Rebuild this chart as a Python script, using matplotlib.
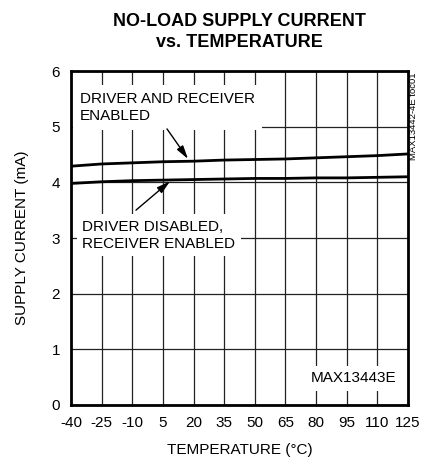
import matplotlib
matplotlib.use("Agg")
import matplotlib.pyplot as plt

plt.rcParams["font.family"] = ["Liberation Sans", "DejaVu Sans"]
plt.rcParams["axes.unicode_minus"] = False

# Data
temps = [-40, -25, -10, 5, 20, 35, 50, 65, 80, 95, 110, 125]
i_both = [4.29, 4.33, 4.35, 4.37, 4.38, 4.40, 4.41, 4.42, 4.44, 4.46, 4.48, 4.51]
i_rx_only = [3.98, 4.01, 4.03, 4.04, 4.05, 4.06, 4.07, 4.07, 4.08, 4.08, 4.09, 4.10]
xticks = [-40, -25, -10, 5, 20, 35, 50, 65, 80, 95, 110, 125]
yticks = [0, 1, 2, 3, 4, 5, 6]

fig = plt.figure(figsize=(4.21, 4.71), dpi=100)
ax = fig.add_axes([71 / 421, 1 - 405 / 471, 337 / 421, 334 / 471])

ax.plot(temps, i_both, color="black", lw=2.0, zorder=3)
ax.plot(temps, i_rx_only, color="black", lw=2.0, zorder=3)

ax.set_xlim(-40, 125)
ax.set_ylim(0, 6)
ax.set_xticks(xticks)
ax.set_yticks(yticks)
ax.tick_params(length=0, labelsize=11, pad=8)
ax.grid(True, color="#222222", lw=0.9)
ax.set_axisbelow(True)
for s in ax.spines.values():
    s.set_linewidth(2.0)

ax.set_xlabel("TEMPERATURE (°C)", fontsize=11, labelpad=9)
ax.set_ylabel("SUPPLY CURRENT (mA)", fontsize=11, labelpad=16)
fig.text(0.5 * (71 + 408) / 421, 1 - 32 / 471,
         "NO-LOAD SUPPLY CURRENT\nvs. TEMPERATURE",
         ha="center", va="center", fontsize=13, fontweight="bold",
         linespacing=1.3)

ax.text(-35.6, 5.34, "DRIVER AND RECEIVER\nENABLED", fontsize=11,
        ha="left", va="center",
        bbox=dict(facecolor="white", edgecolor="none", pad=5),
        zorder=4, linespacing=1.3)
ax.text(-34.6, 3.05, "DRIVER DISABLED,\nRECEIVER ENABLED", fontsize=11,
        ha="left", va="center",
        bbox=dict(facecolor="white", edgecolor="none", pad=4),
        zorder=4, linespacing=1.3)
ax.text(119.5, 0.485, "MAX13443E", fontsize=11, ha="right", va="center",
        bbox=dict(facecolor="white", edgecolor="none", pad=4), zorder=4)

head = "-|>,head_length=0.8,head_width=0.22"
ax.annotate("", xy=(17.3, 4.42), xytext=(7.0, 4.96),
            arrowprops=dict(arrowstyle=head, color="black", lw=1.0,
                            shrinkA=0, shrinkB=0), zorder=5)
ax.annotate("", xy=(8.5, 4.02), xytext=(-8.2, 3.50),
            arrowprops=dict(arrowstyle=head, color="black", lw=1.0,
                            shrinkA=0, shrinkB=0), zorder=5)

fig.text(414 / 421, 1 - 72 / 471, "MAX13442-4E toc01", rotation=90,
         ha="center", va="top", fontsize=6.8)

fig.savefig("out.png", dpi=100)
